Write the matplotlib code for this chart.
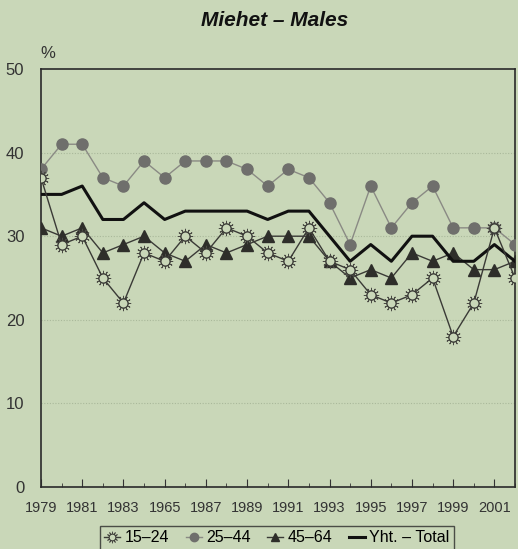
import matplotlib.pyplot as plt

# data
years = list(range(1979, 2003))
age_15_24 = [37, 29, 30, 25, 22, 28, 27, 30, 28, 31, 30, 28, 27, 31, 27, 26, 23, 22, 23, 25, 18, 22, 31, 25]
age_25_44 = [38, 41, 41, 37, 36, 39, 37, 39, 39, 39, 38, 36, 38, 37, 34, 29, 36, 31, 34, 36, 31, 31, 31, 29]
age_45_64 = [31, 30, 31, 28, 29, 30, 28, 27, 29, 28, 29, 30, 30, 30, 27, 25, 26, 25, 28, 27, 28, 26, 26, 27]
total = [35, 35, 36, 32, 32, 34, 32, 33, 33, 33, 33, 32, 33, 33, 30, 27, 29, 27, 30, 30, 27, 27, 29, 27]
xlabels = ["1979", "1981", "1983", "1965", "1987", "1989", "1991", "1993", "1995", "1997", "1999", "2001"]

plt.rcParams['font.family'] = ['Liberation Sans', 'DejaVu Sans']

bg = "#c9d7b8"
fig = plt.figure(figsize=(5.18, 5.49), dpi=100, facecolor=bg)
ax = fig.add_axes([41/518, 1 - 487/549, 474/518, 418/549])
ax.set_facecolor(bg)

ax.plot(years, age_25_44, color="#8a8a84", lw=1, marker="o", ms=8,
        mfc="#6f6f6c", mec="#6f6f6c", zorder=3, label="25\u201344")
ax.plot(years, age_45_64, color="#3a3a36", lw=1, marker="^", ms=8,
        mfc="#2e2e2a", mec="#2e2e2a", zorder=4, label="45\u201364")
ax.plot(years, total, color="#111111", lw=2.2, zorder=5, label="Yht. \u2013 Total")
# sun marker: rays under an open circle
l2, = ax.plot(years, age_15_24, ls="none", marker=(12, 2, 0), ms=11,
              mec="#4a4a44", mew=0.6, zorder=6)
l1, = ax.plot(years, age_15_24, color="#3a3a36", lw=1, marker="o", ms=6.5,
              mfc=bg, mec="#3a3a36", mew=0.8, zorder=6)
ax.plot(years, age_15_24, ls="none", marker="o", ms=6.5, mfc=bg, mec="#3a3a36",
        mew=0.8, zorder=7)

ax.set_xlim(1979, 2002)
ax.set_ylim(0, 50)
ax.set_yticks([0, 10, 20, 30, 40, 50])
ax.tick_params(axis="y", length=0, labelsize=12, colors="#333333", pad=12)
ax.set_xticks(years[::2])
ax.set_xticklabels(xlabels)
ax.set_xticks(years[1::2], minor=True)
ax.tick_params(axis="x", which="major", direction="in", length=6, labelsize=10.5,
               colors="#333333", pad=10)
ax.tick_params(axis="x", which="minor", direction="in", length=3, color="#333333")
for sp in ax.spines.values():
    sp.set_color("#2a2a2a")
    sp.set_linewidth(1.2)
for v in [10, 20, 30, 40]:
    ax.axhline(v, color="#a9b89a", lw=0.8, ls=(0, (1, 1.5)), zorder=1)

fig.text(48/518, 1 - 54/549, "%", fontsize=12, color="#333333", ha="center", va="center")
fig.text(275/518, 1 - 20/549, "Miehet \u2013 Males", fontsize=15, fontweight="bold",
         style="italic", ha="center", va="center", color="#111111")

handles, labels = ax.get_legend_handles_labels()
leg = fig.legend([(l2, l1)] + handles, ["15\u201324"] + labels, loc="center",
                 bbox_to_anchor=(277/518, 1 - 538/549), ncol=4, frameon=True,
                 fontsize=11.5, handlelength=1.0, handletextpad=0.3, columnspacing=1.0,
                 borderpad=0.3, fancybox=False, markerscale=0.75)
leg.get_frame().set_facecolor(bg)
leg.get_frame().set_edgecolor("#2a2a2a")

fig.savefig("out.png", dpi=100, facecolor=bg)
